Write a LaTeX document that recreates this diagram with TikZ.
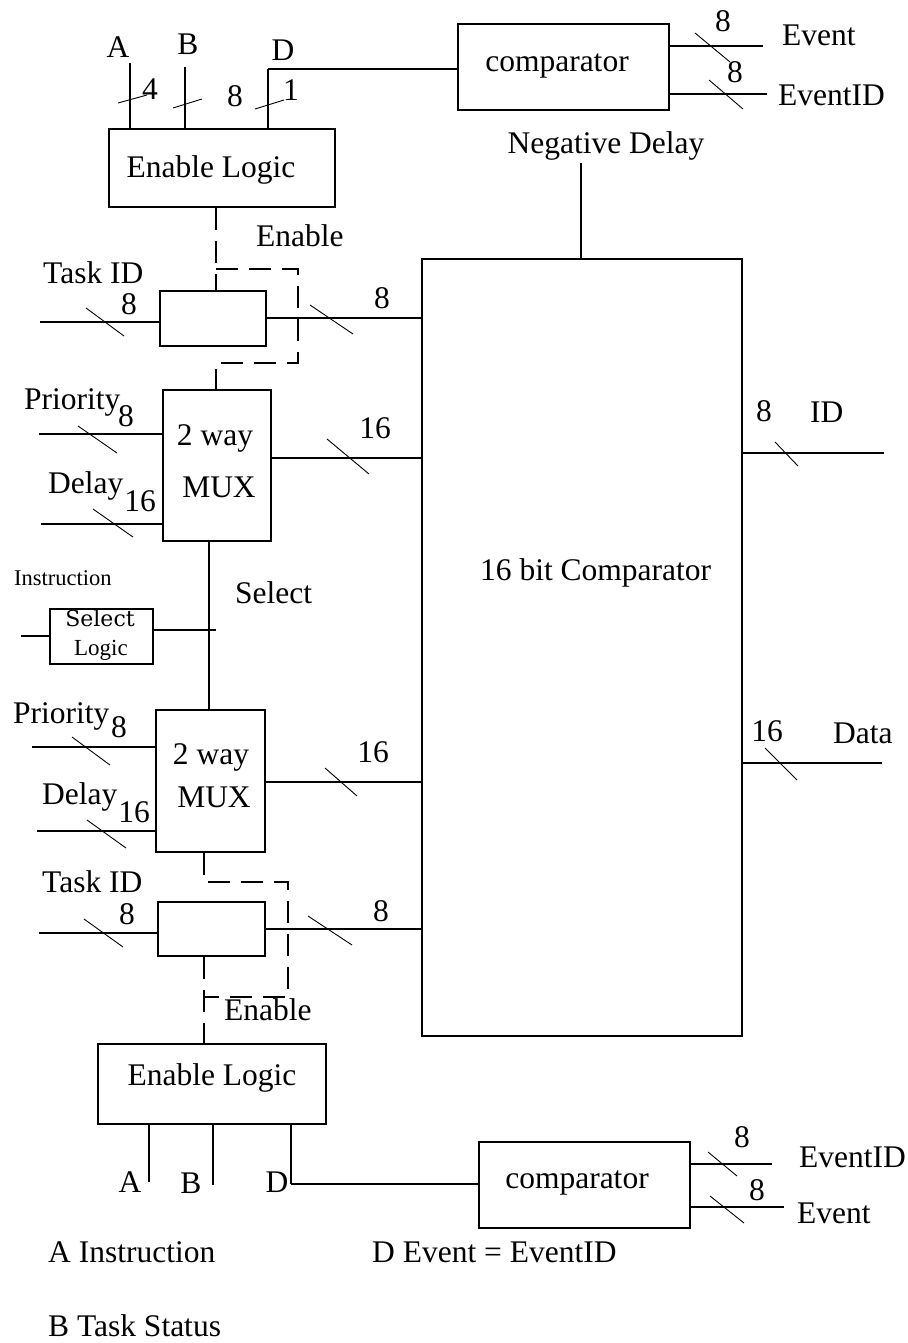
\documentclass[tikz,border=0pt]{standalone}
\usepackage{fontspec}
\setmainfont{Liberation Serif}
\newfontfamily\widefont{DejaVu Serif}
\begin{document}
\begin{tikzpicture}[x=1pt,y=-1pt,
  box/.style={draw, line width=1.8pt, inner sep=0pt, anchor=north west},
  wire/.style={line width=1.8pt},
  thinwire/.style={line width=1.2pt},
  ctrl/.style={line width=1.8pt, dash pattern=on 22pt off 11pt},
  buswidth/.style={line width=0.9pt},
  txt/.style={inner sep=0pt, anchor=base west, font=\fontsize{31.5}{36}\selectfont},
  ctxt/.style={inner sep=0pt, anchor=base, font=\fontsize{31.5}{36}\selectfont},
  num/.style={inner sep=0pt, anchor=center, font=\fontsize{31.5}{36}\selectfont},
  small/.style={inner sep=0pt, anchor=base west, font=\fontsize{22.5}{26}\selectfont}]
\useasboundingbox (0,0) rectangle (907,1343);

% ---------- blocks ----------
\node[box, minimum width=226pt, minimum height=78pt]  (el1)  at (108,128) {};
\node[box, minimum width=211pt, minimum height=86pt]  (cmp1) at (457,23)  {};
\node[box, minimum width=106pt, minimum height=55pt]  (tid1) at (159,290) {};
\node[box, minimum width=108pt, minimum height=151pt] (mux1) at (162,389) {};
\node[box, minimum width=103pt, minimum height=55pt]  (sel)  at (49,608)  {};
\node[box, minimum width=109pt, minimum height=142pt] (mux2) at (155,709) {};
\node[box, minimum width=107pt, minimum height=54pt]  (tid2) at (157,901) {};
\node[box, minimum width=228pt, minimum height=80pt]  (el2)  at (97,1043) {};
\node[box, minimum width=211pt, minimum height=86pt]  (cmp2) at (478,1141) {};
\node[box, minimum width=320pt, minimum height=777pt] (big)  at (421,258) {};

% ---------- block captions ----------
\node[ctxt] (el1t)  at (211,178) {Enable Logic};
\node[ctxt] (cmp1t) at (557,72)  {comparator};
\node[ctxt] (mux1a) at (215,445) {2 way};
\node[ctxt] (mux1b) at (219,497) {MUX};
\node[inner sep=0pt, anchor=base, font=\widefont\fontsize{22}{26}\selectfont] (selA) at (100,626) {Select};
\node[inner sep=0pt, anchor=base, font=\fontsize{23}{26}\selectfont] (selB) at (101,655) {Logic};
\node[ctxt] (mux2a) at (211,764) {2 way};
\node[ctxt] (mux2b) at (214,807) {MUX};
\node[ctxt] (el2t)  at (212,1085) {Enable Logic};
\node[ctxt] (cmp2t) at (577,1188) {comparator};
\node[txt]  (bigt)  at (480,580)  {16 bit Comparator};

% ---------- upper enable logic inputs ----------
\node[ctxt] (lA1) at (118,58) {A};
\node[ctxt] (lB1) at (188,55) {B};
\node[ctxt] (lD1) at (283,61) {D};
\coordinate (a1) at (130,63);
\coordinate (b1) at (185,67);
\draw[wire] (a1) -- (a1 |- el1.north);
\draw[wire] (b1) -- (b1 |- el1.north);
\draw[wire] (el1.north -| 268,0) -- (268,69);
\draw[thinwire] (268,69) -- (cmp1.west |- 0,69);
\draw[buswidth] (118,103) -- (147,95);
\draw[buswidth] (173,108) -- (202,99);
\draw[buswidth] (255,109) -- (284,100);
\node[num] (w4)  at (150,89) {4};
\node[num] (w8a) at (235,96) {8};
\node[num] (w1)  at (291,90) {1};

% ---------- upper comparator outputs ----------
\coordinate (ev1) at (763,46);
\coordinate (eid1) at (767,94);
\draw[wire] (cmp1.east |- ev1) -- (ev1);
\draw[wire] (cmp1.east |- eid1) -- (eid1);
\draw[buswidth] (695,33) -- (730,62);
\draw[buswidth] (709,80) -- (743,109);
\node[num] (w8b) at (723,21) {8};
\node[num] (w8c) at (735,72) {8};
\node[txt] (lev1)  at (782,46)  {Event};
\node[txt] (leid1) at (778,106) {EventID};

% ---------- negative delay ----------
\node[ctxt] (negd) at (606,154) {Negative Delay};
\coordinate (nd) at (581,163);
\draw[wire] (nd) -- (nd |- big.north);

% ---------- upper enable path ----------
\coordinate (e1a) at (216,269);
\coordinate (e1b) at (298,363);
\draw[ctrl] (el1.south -| e1a) -- (e1a) -- (e1a |- tid1.north);
\draw[ctrl] (e1a) -| (e1b) -- (e1b -| e1a) -- (e1a |- mux1.north);
\node[txt] (len1) at (256,246) {Enable};

% ---------- upper task id ----------
\node[txt] (ltid1) at (43,283) {Task ID};
\coordinate (t1in) at (40,322);
\draw[wire] (t1in) -- (t1in -| tid1.west);
\draw[buswidth] (86,308) -- (124,336);
\node[num] (w8d) at (129,304) {8};
\coordinate (t1out) at (265,318);
\draw[wire] (t1out) -- (t1out -| big.west);
\draw[buswidth] (310,305) -- (353,334);
\node[num] (w8e) at (382,298) {8};

% ---------- upper mux ----------
\node[txt] (lpr1) at (24,409) {Priority};
\node[num] (w8f) at (126,416) {8};
\coordinate (p1in) at (39,434);
\draw[wire] (p1in) -- (p1in -| mux1.west);
\draw[buswidth] (78,426) -- (117,453);
\node[txt] (ldl1) at (48,493) {Delay};
\node[num] (w16a) at (140,501) {16};
\coordinate (d1in) at (41,524);
\draw[wire] (d1in) -- (d1in -| mux1.west);
\draw[buswidth] (93,509) -- (133,537);
\coordinate (m1out) at (270,458);
\draw[wire] (m1out) -- (m1out -| big.west);
\draw[buswidth] (327,439) -- (369,474);
\node[num] (w16b) at (375,428) {16};

% ---------- select ----------
\coordinate (sx) at (209,0);
\draw[wire] (mux1.south -| sx) -- (mux2.north -| sx);
\node[txt] (lsel) at (235,603) {Select};
\node[small] (linst) at (14,585) {Instruction};
\coordinate (sin) at (21,636);
\draw[thinwire] (sin) -- (sin -| sel.west);
\coordinate (sout) at (216,630);
\draw[wire] (sel.east |- sout) -- (sout);

% ---------- lower mux ----------
\node[txt] (lpr2) at (13,723) {Priority};
\node[num] (w8g) at (119,727) {8};
\coordinate (p2in) at (32,747);
\draw[wire] (p2in) -- (p2in -| mux2.west);
\draw[buswidth] (72,737) -- (110,765);
\node[txt] (ldl2) at (42,804) {Delay};
\node[num] (w16c) at (134,812) {16};
\coordinate (d2in) at (37,831);
\draw[wire] (d2in) -- (d2in -| mux2.west);
\draw[buswidth] (87,820) -- (126,848);
\coordinate (m2out) at (264,782);
\draw[wire] (m2out) -- (m2out -| big.west);
\draw[buswidth] (325,768) -- (357,796);
\node[num] (w16d) at (373,752) {16};

% ---------- lower enable path ----------
\coordinate (e2a) at (204,882);
\coordinate (e2b) at (288,997);
\draw[ctrl] (mux2.south -| e2a) -- (e2a) -| (e2b) -- (e2b -| e2a);
\draw[ctrl] (tid2.south -| e2a) -- (el2.north -| e2a);
\node[txt] (len2) at (224,1020) {Enable};

% ---------- lower task id ----------
\node[txt] (ltid2) at (42,892) {Task ID};
\coordinate (t2in) at (39,933);
\draw[wire] (t2in) -- (t2in -| tid2.west);
\draw[buswidth] (84,919) -- (123,947);
\node[num] (w8h) at (127,914) {8};
\coordinate (t2out) at (264,929);
\draw[wire] (t2out) -- (t2out -| big.west);
\draw[buswidth] (308,916) -- (352,945);
\node[num] (w8i) at (381,911) {8};

% ---------- comparator outputs ----------
\coordinate (idout) at (884,453);
\draw[wire] (big.east |- idout) -- (idout);
\draw[buswidth] (775,442) -- (798,466);
\node[num] (w8j) at (764,411) {8};
\node[txt] (lid) at (810,422) {ID};
\coordinate (dout) at (882,763);
\draw[wire] (big.east |- dout) -- (dout);
\draw[buswidth] (765,748) -- (797,780);
\node[num] (w16e) at (767,731) {16};
\node[txt] (ldata) at (833,743) {Data};

% ---------- lower enable logic inputs ----------
\coordinate (a2) at (149,1182);
\coordinate (b2) at (213,1185);
\draw[thinwire] (el2.south -| a2) -- (a2);
\draw[thinwire] (el2.south -| b2) -- (b2);
\draw[thinwire] (el2.south -| 291,0) -- (291,1184);
\draw[wire] (291,1184) -- (cmp2.west |- 0,1184);
\node[ctxt] (lA2) at (130,1192) {A};
\node[ctxt] (lB2) at (191,1193) {B};
\node[ctxt] (lD2) at (277,1192) {D};

% ---------- lower comparator outputs ----------
\coordinate (eid2) at (772,1164);
\coordinate (ev2) at (784,1207);
\draw[wire] (cmp2.east |- eid2) -- (eid2);
\draw[wire] (cmp2.east |- ev2) -- (ev2);
\draw[buswidth] (708,1152) -- (737,1176);
\draw[buswidth] (710,1196) -- (744,1223);
\node[num] (w8k) at (742,1137) {8};
\node[num] (w8l) at (757,1190) {8};
\node[txt] (leid2) at (799,1167) {EventID};
\node[txt] (lev2)  at (797,1223) {Event};

% ---------- legend ----------
\node[txt] (legA) at (48,1262)  {A Instruction};
\node[txt] (legD) at (372,1262) {D Event = EventID};
\node[txt] (legB) at (48,1336)  {B Task Status};
\end{tikzpicture}
\end{document}
